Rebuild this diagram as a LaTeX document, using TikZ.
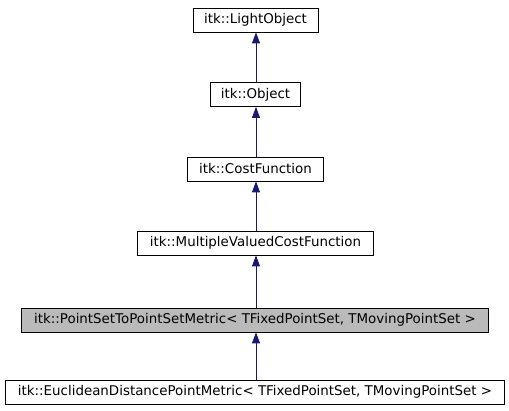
\documentclass[tikz,border=0pt]{standalone}
\usepackage{fontspec}
\setmainfont{DejaVu Sans}
\usetikzlibrary{arrows.meta}
\definecolor{edgeblue}{HTML}{191970}
\begin{document}
\begin{tikzpicture}[x=1pt,y=-1pt,
  cls/.style={draw=black, fill=white, line width=0.8pt, minimum height=24pt, inner sep=0pt, font=\fontsize{13.4}{15}\selectfont},
  cur/.style={cls, fill=black!27},
  inh/.style={draw=edgeblue, line width=0.8pt, -{Triangle[length=11pt,width=8pt,fill=edgeblue]}}]
\useasboundingbox (0,0) rectangle (509,411);
\node[cls, minimum width=125pt] (lo) at (255.5,20) {itk::LightObject};
\node[cls, minimum width=90pt] (ob) at (255.5,94.5) {itk::Object};
\node[cls, minimum width=136pt] (cf) at (255.5,169) {itk::CostFunction};
\node[cls, minimum width=236pt] (mv) at (255.5,243) {itk::MultipleValuedCostFunction};
\node[cur, minimum width=467pt] (ps) at (255,320) {itk::PointSetToPointSetMetric< TFixedPointSet, TMovingPointSet >};
\node[cls, minimum width=499pt] (ed) at (255,392) {itk::EuclideanDistancePointMetric< TFixedPointSet, TMovingPointSet >};
\draw[inh] (ob.north -| 256,0) -- (lo.south -| 256,0);
\draw[inh] (cf.north -| 256,0) -- (ob.south -| 256,0);
\draw[inh] (mv.north -| 256,0) -- (cf.south -| 256,0);
\draw[inh] (ps.north -| 256,0) -- (mv.south -| 256,0);
\draw[inh] (ed.north -| 256,0) -- (ps.south -| 256,0);
\end{tikzpicture}
\end{document}
